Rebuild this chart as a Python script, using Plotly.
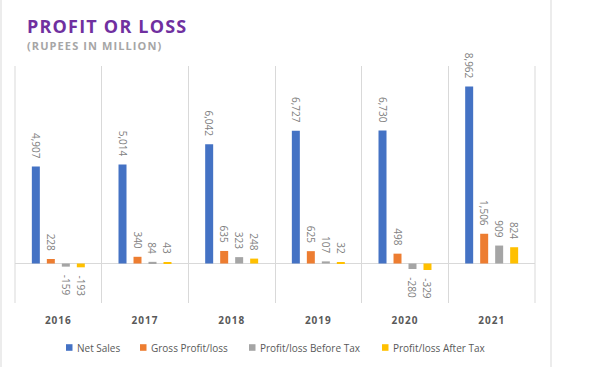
import plotly.graph_objects as go

years = ["2016", "2017", "2018", "2019", "2020", "2021"]
net_sales = [4907, 5014, 6042, 6727, 6730, 8962]
gross_profit = [228, 340, 635, 625, 498, 1506]
profit_before_tax = [-159, 84, 323, 107, -280, 909]
profit_after_tax = [-193, 43, 248, 32, -329, 824]

series_names = ["Net Sales", "Gross Profit/loss", "Profit/loss Before Tax", "Profit/loss After Tax"]
series_values = [net_sales, gross_profit, profit_before_tax, profit_after_tax]
series_colors = ["#4472C4", "#ED7D31", "#A5A5A5", "#FFC000"]

NB = "\u00a0"


def label(v):
    s = f"{v:,}"
    return (NB * 2 + s) if v < 0 else (s + NB * 2)


fig = go.Figure()
for name, vals, col in zip(series_names, series_values, series_colors):
    fig.add_trace(go.Bar(
        x=years, y=vals, name=name,
        marker=dict(color=col, line=dict(width=0)),
        text=[label(v) for v in vals],
        textposition="outside",
        textangle=90,
        textfont=dict(family="Open Sans", size=10, color="#7F7F7F"),
        constraintext="none",
        cliponaxis=False,
        hoverinfo="skip",
        showlegend=False,
    ))

W, H = 593, 385
L, R, T, B = 15, 58, 66, 82
pw, ph = W - L - R, H - T - B


def px(xp):
    return (xp - L) / pw


def py(yp):
    return (H - B - yp) / ph


annotations = [
    dict(text="<span style='letter-spacing:1.2px'><b>PROFIT OR LOSS</b></span>",
         xref="paper", yref="paper", x=px(25), y=py(26.5),
         xanchor="left", yanchor="middle", showarrow=False,
         font=dict(family="Open Sans", size=18, color="#7030A0")),
    dict(text="<span style='letter-spacing:1.1px'><b>(RUPEES IN MILLION)</b></span>",
         xref="paper", yref="paper", x=px(25), y=py(46),
         xanchor="left", yanchor="middle", showarrow=False,
         font=dict(family="Open Sans", size=11, color="#A6A6A6")),
]
shapes = [
    # chart frame
    dict(type="line", xref="paper", yref="paper", x0=px(1), x1=px(1),
         y0=py(367), y1=py(-5), line=dict(color="#D9D9D9", width=1)),
    dict(type="line", xref="paper", yref="paper", x0=px(551), x1=px(551),
         y0=py(367), y1=py(-5), line=dict(color="#D9D9D9", width=1)),
    # outer category boundary gridlines
    dict(type="line", xref="paper", yref="paper", x0=0, x1=0, y0=0, y1=1,
         line=dict(color="#D9D9D9", width=1), layer="below"),
    dict(type="line", xref="paper", yref="paper", x0=1, x1=1, y0=0, y1=1,
         line=dict(color="#D9D9D9", width=1), layer="below"),
]

# manual legend (pixel positions of marker left edges)
legend_x = [66, 140, 249, 382]
ly = 347.5
for name, col, lx in zip(series_names, series_colors, legend_x):
    shapes.append(dict(type="rect", xref="paper", yref="paper",
                       x0=px(lx), x1=px(lx + 6.5), y0=py(ly + 3.3), y1=py(ly - 3.3),
                       fillcolor=col, line=dict(width=0)))
    annotations.append(dict(text=name, xref="paper", yref="paper",
                            x=px(lx + 9), y=py(ly), xanchor="left", yanchor="middle",
                            showarrow=False,
                            font=dict(family="Open Sans", size=10, color="#595959")))

fig.update_layout(
    width=W, height=H,
    margin=dict(l=L, r=R, t=T, b=B, pad=0, autoexpand=False),
    paper_bgcolor="white", plot_bgcolor="white",
    barmode="group", bargap=0.308, bargroupgap=0.467,
    showlegend=False,
    xaxis=dict(
        type="category", automargin=False,
        tickmode="array", tickvals=years,
        ticktext=[f"<span style='letter-spacing:1px'><b>{y}</b></span>" for y in years],
        tickfont=dict(family="Open Sans", size=10, color="#595959"),
        tickson="boundaries", showgrid=True, gridcolor="#D9D9D9", gridwidth=1,
        ticks="", showline=False, zeroline=False,
        ticklabelstandoff=10,
    ),
    yaxis=dict(
        range=[-2000, 10000], showgrid=False, showticklabels=False,
        automargin=False,
        zeroline=True, zerolinecolor="#D9D9D9", zerolinewidth=1,
        ticks="", showline=False,
    ),
    annotations=annotations,
    shapes=shapes,
)

fig.write_html("out.html", config={"displayModeBar": False},
               post_script="document.body.style.margin='0';document.body.style.overflow='hidden';")
